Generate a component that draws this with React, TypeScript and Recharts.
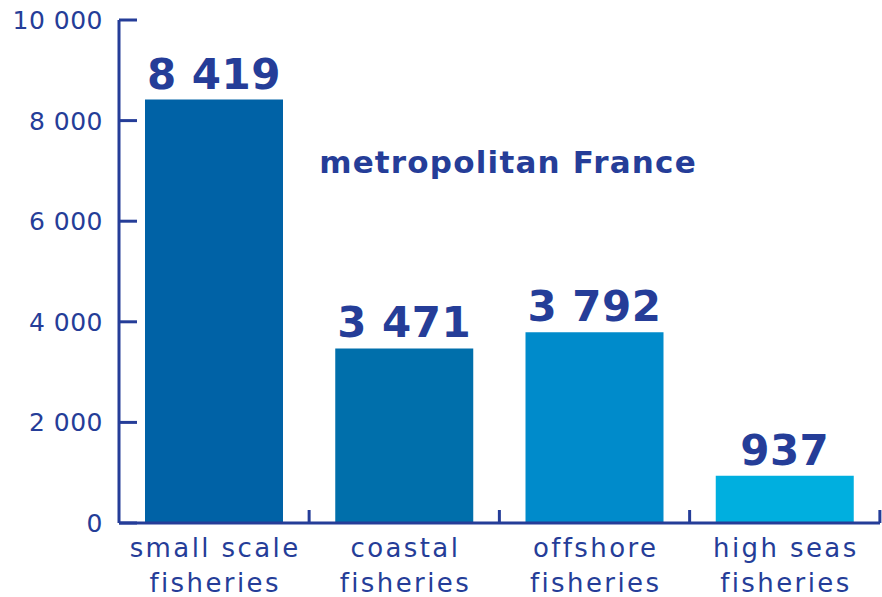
import { Bar, BarChart, Cell, LabelList, XAxis, YAxis } from "recharts";

const categories = ["small scale|fisheries", "coastal|fisheries", "offshore|fisheries", "high seas|fisheries"];
const vessels = [8419, 3471, 3792, 937];
const barColors = ["#0062a6", "#006fab", "#008bcb", "#00afdf"];
const yTicks = [0, 2000, 4000, 6000, 8000, 10000];

const data = categories.map((c, i) => ({ name: c, value: vessels[i] }));

const BLUE = "#253d98";
const FONT = "'DejaVu Sans', sans-serif";
const AXIS_X = 119;
const AXIS_Y = 523;
const BAND = 190;

const fmt = (n: number) => String(n).replace(/\B(?=(\d{3})+(?!\d))/g, " ");

function YTick({ y, payload }: any) {
  return (
    <g>
      <line x1={AXIS_X} x2={137} y1={y} y2={y} stroke={BLUE} strokeWidth={3} />
      <text x={103} y={y + 9} textAnchor="end" fontSize={25} letterSpacing={0.5} fill={BLUE} fontFamily={FONT}>
        {fmt(payload.value)}
      </text>
    </g>
  );
}

function XTick({ x, payload }: any) {
  const [l1, l2] = String(payload.value).split("|");
  const edge = x + BAND / 2;
  return (
    <g>
      <line x1={edge} x2={edge} y1={AXIS_Y} y2={AXIS_Y - 13} stroke={BLUE} strokeWidth={3} />
      <text x={x + 1} y={557} textAnchor="middle" fontSize={26} letterSpacing={2.4} fill={BLUE} fontFamily={FONT}>
        {l1}
      </text>
      <text x={x + 1} y={592} textAnchor="middle" fontSize={26} letterSpacing={2.4} fill={BLUE} fontFamily={FONT}>
        {l2}
      </text>
    </g>
  );
}

export default function App() {
  return (
    <div style={{ position: "absolute", left: 0, top: 0, width: 882, height: 597, background: "#fff" }}>
      <BarChart width={882} height={597} data={data} margin={{ top: 20, right: 2, bottom: 0, left: 0 }}>
        <YAxis
          width={AXIS_X}
          domain={[0, 10000]}
          ticks={yTicks}
          interval={0}
          axisLine={{ stroke: BLUE, strokeWidth: 3 }}
          tickLine={false}
          tick={<YTick />}
        />
        <XAxis
          dataKey="name"
          height={74}
          interval={0}
          axisLine={{ stroke: BLUE, strokeWidth: 3 }}
          tickLine={false}
          tick={<XTick />}
        />
        <Bar dataKey="value" barSize={138} isAnimationActive={false}>
          {data.map((d, i) => (
            <Cell key={d.name} fill={barColors[i]} />
          ))}
          <LabelList
            dataKey="value"
            position="top"
            offset={11}
            formatter={(v: any) => fmt(Number(v))}
            style={{ fontSize: 42, fontWeight: 700, fill: BLUE, fontFamily: FONT, letterSpacing: 0.5 }}
          />
        </Bar>
      </BarChart>
      <div
        style={{
          position: "absolute",
          left: 508,
          top: 147,
          transform: "translateX(-50%)",
          whiteSpace: "nowrap",
          fontFamily: FONT,
          fontWeight: 700,
          fontSize: 31,
          lineHeight: "31px",
          letterSpacing: 1.2,
          color: BLUE,
        }}
      >
        metropolitan France
      </div>
    </div>
  );
}
